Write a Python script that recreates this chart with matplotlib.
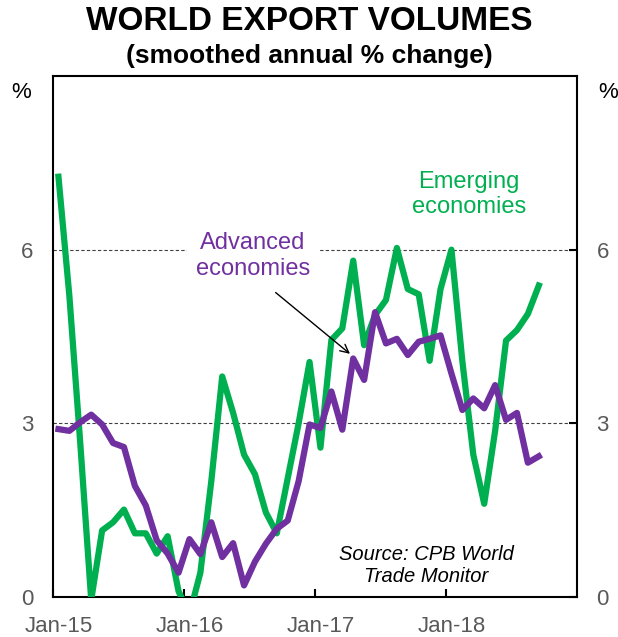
import numpy as np
import matplotlib
matplotlib.use('Agg')
import matplotlib.pyplot as plt

plt.rcParams['font.family'] = ['Liberation Sans', 'DejaVu Sans']

# monthly data, Jan-15 .. Sep-18 (smoothed annual % change)
emerging = [7.26, 5.2, 2.65, -0.05, 1.15, 1.29, 1.51, 1.10, 1.10, 0.75, 1.05, 0.1,
            -0.3, 0.42, 2.0, 3.81, 3.18, 2.46, 2.12, 1.46, 1.10, 2.05, 3.0, 4.06,
            2.58, 4.44, 4.64, 5.81, 4.35, 4.87, 5.13, 6.03, 5.32, 5.23, 4.08, 5.32,
            6.0, 4.07, 2.46, 1.61, 2.87, 4.43, 4.61, 4.89, 5.38]
advanced = [2.90, 2.87, 3.02, 3.15, 2.98, 2.66, 2.59, 1.92, 1.58, 0.98, 0.75, 0.42,
            1.0, 0.74, 1.29, 0.69, 0.93, 0.2, 0.61, 0.92, 1.18, 1.32, 2.0, 2.98,
            2.92, 3.55, 2.89, 4.12, 3.75, 4.92, 4.38, 4.46, 4.18, 4.41, 4.46, 4.52,
            3.86, 3.23, 3.43, 3.26, 3.66, 3.06, 3.18, 2.32, 2.43]
year_labels = ['Jan-15', 'Jan-16', 'Jan-17', 'Jan-18']
year_ticks = [0, 12, 24, 36]

green = '#00B050'
purple = '#7030A0'
grey = '#595959'

months = np.arange(len(emerging)) + 0.5  # plotted mid-month

fig = plt.figure(figsize=(6.18, 6.37), dpi=100)
ax = fig.add_axes([53/618, 1-597/637, (577-53)/618, (597-76)/637])

for yv in [3, 6]:
    ax.axhline(yv, color='#404040', lw=0.8, ls=(0, (3, 2)), zorder=1)

ax.plot(months, emerging, color=green, lw=4.5, zorder=3)
ax.plot(months, advanced, color=purple, lw=4.5, zorder=4)

ax.set_xlim(0, 48)
ax.set_ylim(0, 9)

# axes styling
for s in ax.spines.values():
    s.set_linewidth(1.5)
ax.set_yticks([0, 3, 6])
ax.tick_params(axis='y', which='major', left=False, right=True, labelleft=True,
               labelright=True, direction='in', length=6, width=1.5,
               labelsize=16, labelcolor=grey, pad=14)
ax.set_xticks(year_ticks)
ax.set_xticklabels([])
ax.tick_params(axis='x', which='major', direction='in', length=6, width=1.5)
ax.set_xticks([t + 0.5 for t in year_ticks], minor=True)
ax.set_xticklabels(year_labels, minor=True)
ax.tick_params(axis='x', which='minor', length=0, labelsize=16,
               labelcolor=grey, pad=14)

# labels
ax.text(18.3, 5.89, 'Advanced\neconomies', color=purple, fontsize=17,
        ha='center', va='center', zorder=2,
        bbox=dict(facecolor='white', edgecolor='none', pad=6))
ax.text(38.1, 6.95, 'Emerging\neconomies', color=green, fontsize=17,
        ha='center', va='center', zorder=2)
ax.annotate('', xy=(27.4, 4.17), xytext=(20.2, 5.29),
            arrowprops=dict(arrowstyle='->', color='black', lw=1,
                            mutation_scale=15), zorder=5)
ax.text(34.2, 0.55, 'Source: CPB World\nTrade Monitor', fontsize=14.5,
        style='italic', ha='center', va='center')

fig.text(21/618, 1-92/637, '%', fontsize=16, ha='center', va='center')
fig.text(608/618, 1-92/637, '%', fontsize=16, ha='center', va='center')

fig.text(0.5, 1-21/637, 'WORLD EXPORT VOLUMES', fontsize=24,
         fontweight='bold', ha='center', va='center')
fig.text(0.5, 1-56/637, '(smoothed annual % change)', fontsize=19,
         fontweight='bold', ha='center', va='center')

fig.savefig('out.png', dpi=100)
